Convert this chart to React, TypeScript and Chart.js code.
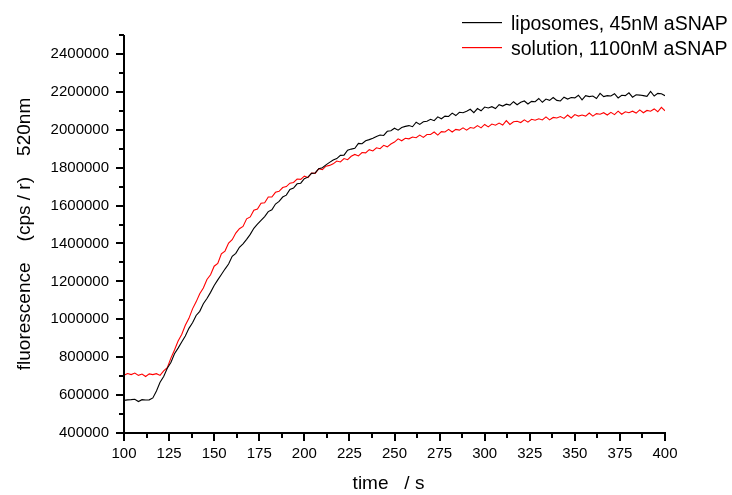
import React, { useEffect, useRef } from "react";
import { Chart, registerables } from "chart.js";

Chart.register(...registerables);

const times = [
  100, 102, 104, 106, 108, 110, 112, 114, 116, 118, 120, 122, 124, 126, 128, 130, 132, 134, 136, 138,
  140, 142, 144, 146, 148, 150, 152, 154, 156, 158, 160, 162, 164, 166, 168, 170, 172, 174, 176, 178,
  180, 182, 184, 186, 188, 190, 192, 194, 196, 198, 200, 202, 204, 206, 208, 210, 212, 214, 216, 218,
  220, 222, 224, 226, 228, 230, 232, 234, 236, 238, 240, 242, 244, 246, 248, 250, 252, 254, 256, 258,
  260, 262, 264, 266, 268, 270, 272, 274, 276, 278, 280, 282, 284, 286, 288, 290, 292, 294, 296, 298,
  300, 302, 304, 306, 308, 310, 312, 314, 316, 318, 320, 322, 324, 326, 328, 330, 332, 334, 336, 338,
  340, 342, 344, 346, 348, 350, 352, 354, 356, 358, 360, 362, 364, 366, 368, 370, 372, 374, 376, 378,
  380, 382, 384, 386, 388, 390, 392, 394, 396, 398, 400,
];

const liposomes = [
  572000, 575000, 576000, 578000, 566000, 576000, 574000, 575000, 585000, 622000,
  668000, 698000, 742000, 772000, 818000, 848000, 880000, 912000, 952000, 982000,
  1020000, 1042000, 1082000, 1110000, 1142000, 1178000, 1208000, 1236000, 1265000, 1292000,
  1332000, 1348000, 1380000, 1398000, 1422000, 1448000, 1480000, 1502000, 1522000, 1542000,
  1568000, 1578000, 1608000, 1622000, 1645000, 1655000, 1685000, 1692000, 1715000, 1718000,
  1742000, 1750000, 1770000, 1772000, 1795000, 1800000, 1815000, 1828000, 1840000, 1848000,
  1865000, 1866000, 1892000, 1898000, 1902000, 1928000, 1926000, 1942000, 1948000, 1955000,
  1965000, 1972000, 1970000, 1992000, 1995000, 2008000, 1998000, 2012000, 2018000, 2022000,
  2016000, 2040000, 2028000, 2042000, 2045000, 2055000, 2048000, 2068000, 2058000, 2072000,
  2070000, 2088000, 2075000, 2092000, 2090000, 2098000, 2108000, 2090000, 2112000, 2100000,
  2120000, 2115000, 2122000, 2112000, 2132000, 2125000, 2135000, 2130000, 2148000, 2132000,
  2145000, 2152000, 2136000, 2150000, 2148000, 2165000, 2145000, 2162000, 2155000, 2170000,
  2155000, 2152000, 2172000, 2162000, 2170000, 2168000, 2182000, 2158000, 2180000, 2175000,
  2178000, 2165000, 2192000, 2175000, 2180000, 2178000, 2190000, 2168000, 2182000, 2180000,
  2195000, 2172000, 2185000, 2183000, 2180000, 2176000, 2202000, 2178000, 2192000, 2190000,
  2180000,
];

const solution = [
  705000, 714000, 708000, 716000, 704000, 711000, 698000, 712000, 708000, 713000,
  704000, 728000, 745000, 795000, 838000, 885000, 920000, 968000, 1005000, 1055000,
  1092000, 1135000, 1165000, 1210000, 1235000, 1280000, 1295000, 1345000, 1360000, 1402000,
  1420000, 1455000, 1478000, 1490000, 1530000, 1540000, 1575000, 1582000, 1612000, 1615000,
  1645000, 1645000, 1670000, 1675000, 1695000, 1700000, 1718000, 1722000, 1740000, 1738000,
  1755000, 1748000, 1772000, 1770000, 1795000, 1790000, 1808000, 1812000, 1820000, 1835000,
  1830000, 1848000, 1842000, 1860000, 1870000, 1862000, 1880000, 1878000, 1895000, 1888000,
  1905000, 1900000, 1918000, 1910000, 1925000, 1935000, 1952000, 1942000, 1955000, 1952000,
  1962000, 1958000, 1972000, 1960000, 1975000, 1975000, 1988000, 1972000, 1990000, 1988000,
  2002000, 1988000, 2002000, 1998000, 2010000, 1998000, 2012000, 2008000, 2022000, 2010000,
  2028000, 2015000, 2030000, 2024000, 2035000, 2025000, 2048000, 2028000, 2042000, 2045000,
  2038000, 2052000, 2040000, 2055000, 2050000, 2058000, 2052000, 2068000, 2052000, 2065000,
  2062000, 2070000, 2060000, 2078000, 2062000, 2080000, 2072000, 2078000, 2072000, 2088000,
  2072000, 2085000, 2082000, 2090000, 2078000, 2092000, 2080000, 2098000, 2082000, 2095000,
  2090000, 2098000, 2088000, 2105000, 2090000, 2102000, 2098000, 2110000, 2095000, 2118000,
  2100000,
];

const xMajorTicks = [100, 125, 150, 175, 200, 225, 250, 275, 300, 325, 350, 375, 400];
const xMinorTicks = [112.5, 137.5, 162.5, 187.5, 212.5, 237.5, 262.5, 287.5, 312.5, 337.5, 362.5, 387.5];
const yMajorTicks = [400000, 600000, 800000, 1000000, 1200000, 1400000, 1600000, 1800000, 2000000, 2200000, 2400000];
const yMinorTicks = [500000, 700000, 900000, 1100000, 1300000, 1500000, 1700000, 1900000, 2100000, 2300000, 2500000];

const seriesLabels = ["liposomes, 45nM aSNAP", "solution, 1100nM aSNAP"];
const seriesColors = ["#000000", "#ff0000"];
const xTitle = "time   / s";
const yTitle = "fluorescence    (cps / r)    520nm";

const FONT = "'Liberation Sans', Arial, Helvetica, sans-serif";

export default function App() {
  const ref = useRef<HTMLCanvasElement>(null);

  useEffect(() => {
    document.body.style.margin = "0";
    const canvas = ref.current;
    if (!canvas) return;

    const decor = {
      id: "decor",
      afterDraw(chart: any) {
        const ctx = chart.ctx as CanvasRenderingContext2D;
        const xs = chart.scales.x;
        const ys = chart.scales.y;
        const a = chart.chartArea;
        ctx.save();
        ctx.strokeStyle = "#000";
        ctx.lineWidth = 2;
        ctx.lineCap = "butt";
        ctx.beginPath();
        ctx.moveTo(a.left, a.bottom + 1);
        ctx.lineTo(a.left, a.top);
        ctx.moveTo(a.left - 1, a.bottom);
        ctx.lineTo(a.right + 1, a.bottom);
        for (const v of xMajorTicks) {
          const px = Math.round(xs.getPixelForValue(v));
          ctx.moveTo(px, a.bottom);
          ctx.lineTo(px, a.bottom + 8);
        }
        for (const v of xMinorTicks) {
          const px = Math.round(xs.getPixelForValue(v));
          ctx.moveTo(px, a.bottom);
          ctx.lineTo(px, a.bottom + 5);
        }
        for (const v of yMajorTicks) {
          const py = Math.round(ys.getPixelForValue(v));
          ctx.moveTo(a.left, py);
          ctx.lineTo(a.left - 8, py);
        }
        for (const v of yMinorTicks) {
          const py = Math.round(ys.getPixelForValue(v));
          ctx.moveTo(a.left, py);
          ctx.lineTo(a.left - 5, py);
        }
        ctx.stroke();

        ctx.fillStyle = "#000";
        ctx.font = `19px ${FONT}`;
        ctx.textAlign = "center";
        ctx.textBaseline = "alphabetic";
        ctx.fillText(xTitle, (a.left + a.right) / 2 - 6, 489);
        ctx.save();
        ctx.translate(30, (a.top + a.bottom) / 2);
        ctx.rotate(-Math.PI / 2);
        ctx.fillText(yTitle, 0, 0);
        ctx.restore();

        ctx.textAlign = "left";
        ctx.font = `19.5px ${FONT}`;
        const rows = [22, 47];
        seriesLabels.forEach((lab, i) => {
          ctx.fillStyle = seriesColors[i];
          ctx.fillRect(462, rows[i], 40, 1.2);
          ctx.fillStyle = "#000";
          ctx.fillText(lab, 511, rows[i] + 7.5);
        });
        ctx.restore();
      },
    };

    const chart = new Chart(canvas, {
      type: "line",
      data: {
        datasets: [
          {
            label: seriesLabels[0],
            data: times.map((t, i) => ({ x: t, y: liposomes[i] })),
            borderColor: seriesColors[0],
            borderWidth: 1.1,
            pointRadius: 0,
            tension: 0,
            fill: false,
          },
          {
            label: seriesLabels[1],
            data: times.map((t, i) => ({ x: t, y: solution[i] })),
            borderColor: seriesColors[1],
            borderWidth: 1.1,
            pointRadius: 0,
            tension: 0,
            fill: false,
          },
        ],
      },
      options: {
        responsive: false,
        animation: false,
        devicePixelRatio: 1,
        layout: { padding: { left: 0, top: 35, right: 67, bottom: 0 } },
        plugins: { legend: { display: false }, tooltip: { enabled: false } },
        scales: {
          x: {
            type: "linear",
            min: 100,
            max: 400,
            afterBuildTicks: (s: any) => {
              s.ticks = xMajorTicks.map((v) => ({ value: v }));
            },
            afterFit: (s: any) => {
              s.height = 62;
            },
            grid: { display: false, drawTicks: false },
            border: { display: false },
            ticks: {
              padding: 12,
              maxRotation: 0,
              autoSkip: false,
              color: "#000",
              font: { family: FONT, size: 15 },
              callback: (v: any) => String(v),
            },
          },
          y: {
            type: "linear",
            min: 400000,
            max: 2500000,
            afterBuildTicks: (s: any) => {
              s.ticks = yMajorTicks.map((v) => ({ value: v }));
            },
            afterFit: (s: any) => {
              s.width = 124;
            },
            grid: { display: false, drawTicks: false },
            border: { display: false },
            ticks: {
              padding: 15,
              autoSkip: false,
              color: "#000",
              font: { family: FONT, size: 15 },
              callback: (v: any) => String(v),
            },
          },
        },
      },
      plugins: [decor],
    });

    return () => chart.destroy();
  }, []);

  return (
    <div style={{ width: 732, height: 495, position: "relative" }}>
      <canvas ref={ref} width={732} height={495} style={{ display: "block" }} />
    </div>
  );
}
